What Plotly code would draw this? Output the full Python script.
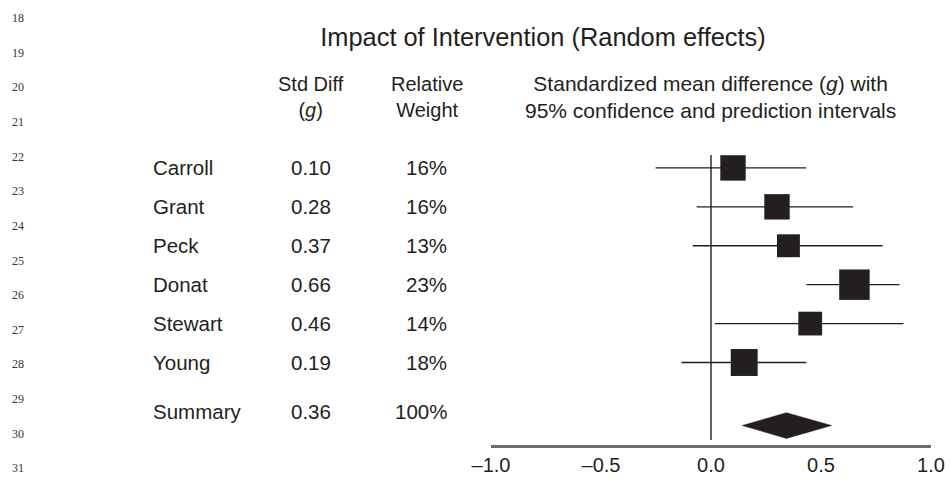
import numpy as np
import plotly.graph_objects as go

# ---------------- data ----------------
studies = ["Carroll", "Grant", "Peck", "Donat", "Stewart", "Young"]
std_diff_labels = ["0.10", "0.28", "0.37", "0.66", "0.46", "0.19"]
weight_labels = ["16%", "16%", "13%", "23%", "14%", "18%"]
weights = [16, 16, 13, 23, 14, 18]
effect = [0.10, 0.30, 0.352, 0.652, 0.451, 0.151]
ci_low = [-0.252, -0.065, -0.083, 0.434, 0.017, -0.134]
ci_high = [0.433, 0.646, 0.780, 0.857, 0.875, 0.433]

summary_label = "Summary"
summary_std_diff_label = "0.36"
summary_weight_label = "100%"
summary_effect = 0.343
summary_low = 0.142
summary_high = 0.548

tick_vals = [-1.0, -0.5, 0.0, 0.5, 1.0]
tick_text = ["\u20131.0", "\u20130.5", "0.0", "0.5", "1.0"]
line_numbers = list(range(18, 32))

# ---------------- layout helpers ----------------
W, H = 951, 482
L, R, T, B = 491, 20, 129, 37
INK = "#231f20"
FONT = "Liberation Sans, Arial, Helvetica, sans-serif"

def xp(px):
    return (px - L) / (W - L - R)

def yp(py):
    return 1 - (py - T) / (H - T - B)

rows = list(range(1, len(studies) + 1))
summary_text_row = 7.27
summary_mark_row = 7.62
diamond_half = 0.33

fig = go.Figure()

# CI lines
cx, cy = [], []
for lo, hi, r in zip(ci_low, ci_high, rows):
    cx += [lo, hi, None]
    cy += [r, r, None]
fig.add_trace(go.Scatter(x=cx, y=cy, mode="lines",
                         line=dict(color=INK, width=1.4),
                         hoverinfo="skip", showlegend=False))

# squares sized by weight
fig.add_trace(go.Scatter(x=effect, y=rows, mode="markers",
                         marker=dict(symbol="square", color=INK, opacity=1,
                                     size=[6.35 * np.sqrt(w) for w in weights],
                                     line=dict(width=0)),
                         showlegend=False))

# summary diamond
fig.add_trace(go.Scatter(
    x=[summary_low, summary_effect, summary_high, summary_effect, summary_low],
    y=[summary_mark_row, summary_mark_row - diamond_half, summary_mark_row,
       summary_mark_row + diamond_half, summary_mark_row],
    mode="lines", fill="toself", fillcolor=INK,
    line=dict(color=INK, width=0.5), showlegend=False))

# zero reference line
fig.add_shape(type="line", xref="x", yref="y", x0=0, x1=0, y0=0.67, y1=7.99,
              line=dict(color=INK, width=1.4))

ann = []
def text(x, y, s, size=20, xanchor="center", family=FONT, color=INK):
    ann.append(dict(x=x, y=y, xref="paper", yref="paper", text=s,
                    showarrow=False, xanchor=xanchor, yanchor="middle",
                    font=dict(family=family, size=size, color=color)))

# headers
text(xp(311), yp(97), "Std Diff<br>(<i>g</i>)")
text(xp(427), yp(97), "Relative<br>Weight")
text(xp(710), yp(97), "Standardized mean difference (<i>g</i>) with<br>95% confidence and prediction intervals", size=21)

NAME_X, SD_X, WT_X = 151, 311, 449

# rows
for name, sd, wl, r in zip(studies, std_diff_labels, weight_labels, rows):
    ann.append(dict(x=xp(NAME_X), y=r, xref="paper", yref="y", text=name, showarrow=False,
                    xanchor="left", yanchor="middle", font=dict(family=FONT, size=20.5, color=INK)))
    ann.append(dict(x=xp(SD_X), y=r, xref="paper", yref="y", text=sd, showarrow=False,
                    xanchor="center", yanchor="middle", font=dict(family=FONT, size=20.5, color=INK)))
    ann.append(dict(x=xp(WT_X), y=r, xref="paper", yref="y", text=wl, showarrow=False,
                    xanchor="right", yanchor="middle", font=dict(family=FONT, size=20.5, color=INK)))
for s, px, anc in [(summary_label, NAME_X, "left"), (summary_std_diff_label, SD_X, "center"),
                   (summary_weight_label, WT_X, "right")]:
    ann.append(dict(x=xp(px), y=summary_text_row, xref="paper", yref="y", text=s, showarrow=False,
                    xanchor=anc, yanchor="middle", font=dict(family=FONT, size=20.5, color=INK)))

# line numbers
for i, n in enumerate(line_numbers):
    text(xp(17.5), yp(18.3 + i * 34.6), str(n), size=12,
         family="Liberation Serif, Times New Roman, serif", color="#333333")

fig.update_layout(
    width=W, height=H,
    margin=dict(l=L, r=R, t=T, b=B, pad=0),
    paper_bgcolor="white", plot_bgcolor="white",
    title=dict(text="Impact of Intervention (Random effects)",
               x=543 / W, xanchor="center", y=1 - 37 / H, yanchor="middle",
               font=dict(family=FONT, size=25.4, color=INK)),
    xaxis=dict(range=[-1, 1], tickvals=tick_vals, ticktext=tick_text,
               showgrid=False, zeroline=False, showline=True,
               linecolor="#6b6b6b", linewidth=2.5, ticks="",
               tickfont=dict(family=FONT, size=20, color=INK),
               automargin=False, fixedrange=True),
    yaxis=dict(range=[8.12, 0], visible=False, automargin=False, fixedrange=True),
    annotations=ann,
    showlegend=False,
)

fig.write_html("out.html")
